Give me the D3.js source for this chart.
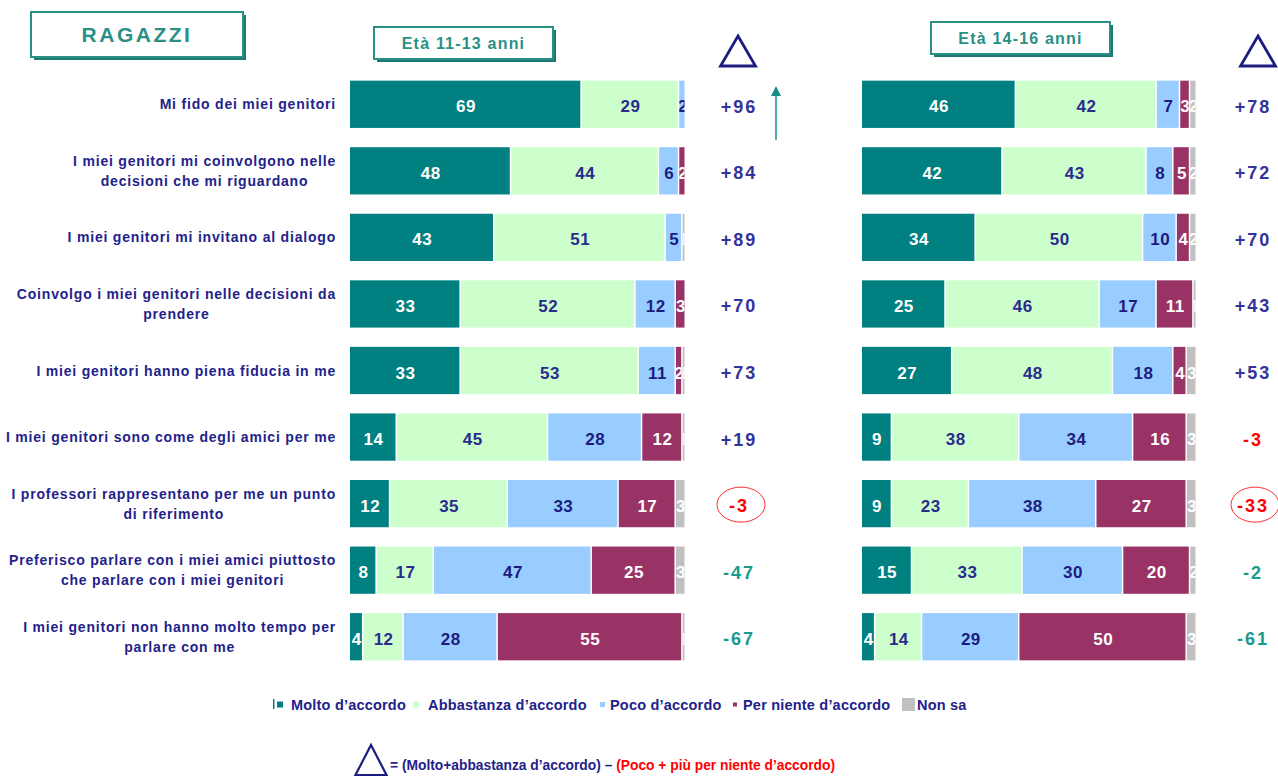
<!DOCTYPE html>
<html>
<head>
<meta charset="utf-8">
<script src="https://cdn.jsdelivr.net/npm/d3@7/dist/d3.min.js"></script>
<style>
body{margin:0;background:#fff;}
text{font-family:"Liberation Sans",Arial,sans-serif;font-weight:bold;}
</style>
</head>
<body>
<svg class="chart" width="1278" height="777"></svg>
<script>
var categories = [
  ["Mi fido dei miei genitori"],
  ["I miei genitori mi coinvolgono  nelle", "decisioni che mi riguardano"],
  ["I miei genitori mi invitano al dialogo"],
  ["Coinvolgo i miei genitori nelle decisioni da", "prendere"],
  ["I miei genitori hanno piena fiducia in me"],
  ["I miei genitori sono come  degli amici per me"],
  ["I professori rappresentano per me un punto", "di riferimento"],
  ["Preferisco parlare con i miei amici piuttosto", "che parlare con i miei genitori"],
  ["I miei genitori non hanno molto tempo per", "parlare con me"]
];
var seriesNames = ["Molto d'accordo", "Abbastanza d'accordo", "Poco d'accordo", "Per niente d'accordo", "Non sa"];
var seriesColors = ["#008080", "#ccffcc", "#99ccff", "#993366", "#c0c0c0"];
var seriesText = ["#ffffff", "#2b2b8c", "#1c1c80", "#ffffff", "#ffffff"];

// Età 11-13
var molto1 =      [69, 48, 43, 33, 33, 14, 12,  8,  4];
var abbastanza1 = [29, 44, 51, 52, 53, 45, 35, 17, 12];
var poco1 =       [ 2,  6,  5, 12, 11, 28, 33, 47, 28];
var perniente1 =  [ 0,  2,  0,  3,  2, 12, 17, 25, 55];
var nonsa1 =      [ 0,  0,  1,  0,  1,  1,  3,  3,  1];
var delta1 =      ["+96", "+84", "+89", "+70", "+73", "+19", "-3", "-47", "-67"];

// Età 14-16
var molto2 =      [46, 42, 34, 25, 27,  9,  9, 15,  4];
var abbastanza2 = [42, 43, 50, 46, 48, 38, 23, 33, 14];
var poco2 =       [ 7,  8, 10, 17, 18, 34, 38, 30, 29];
var perniente2 =  [ 3,  5,  4, 11,  4, 16, 27, 20, 50];
var nonsa2 =      [ 2,  2,  2,  1,  3,  3,  3,  2,  3];
var delta2 =      ["+78", "+72", "+70", "+43", "+53", "-3", "-33", "-2", "-61"];

// colore e cerchio dei delta
var deltaStyle1 = ["pos","pos","pos","pos","pos","pos","redc","neg","neg"];
var deltaStyle2 = ["pos","pos","pos","pos","pos","red","redc","neg","neg"];

var svg = d3.select("svg.chart");
var navy = "#22228a";
var teal = "#2a8f85";

var y = d3.scaleBand()
    .domain(d3.range(categories.length))
    .range([71, 670])
    .paddingInner(0.29)
    .paddingOuter(0.145);

var x1 = d3.scaleLinear().domain([0, 100]).range([350, 686]);
var x2 = d3.scaleLinear().domain([0, 100]).range([862, 1197]);

// etichette categorie
categories.forEach(function(lines, i){
    var g = svg.append("g");
    var cy = y(i) + y.bandwidth()/2;
    var t = g.selectAll("text").data(lines).enter().append("text")
        .attr("font-size", 14)
        .attr("letter-spacing", 0.8)
        .attr("fill", navy)
        .attr("text-anchor", "middle")
        .attr("y", function(d, k){ return cy + 5 + (k - (lines.length-1)/2)*20; })
        .text(function(d){ return d; });
    var w = d3.max(t.nodes(), function(n){ return n.getComputedTextLength(); });
    t.attr("x", 336 - w/2);
});

var clipId = 0;
function panel(x, cols, deltas, styles, dx){
    var rows = categories.map(function(c, i){
        var acc = 0;
        return cols.map(function(col, s){
            var v = col[i];
            var seg = {s: s, v: v, x0: acc, x1: acc + v, i: i};
            acc += v;
            return seg;
        });
    });
    var segs = [].concat.apply([], rows).filter(function(d){ return d.v > 0; });

    var g = svg.append("g");
    var seg = g.selectAll("g.seg").data(segs).enter().append("g");
    seg.append("clipPath")
        .attr("id", function(d){ d.cid = "c" + (clipId++); return d.cid; })
        .append("rect")
        .attr("x", function(d){ return x(d.x0); })
        .attr("y", function(d){ return y(d.i); })
        .attr("width", function(d){ return Math.max(0, x(d.x1) - x(d.x0) - 1.5); })
        .attr("height", y.bandwidth());
    seg.append("rect")
        .attr("x", function(d){ return x(d.x0); })
        .attr("y", function(d){ return y(d.i); })
        .attr("width", function(d){ return Math.max(0, x(d.x1) - x(d.x0) - 1.5); })
        .attr("height", y.bandwidth())
        .attr("fill", function(d){ return seriesColors[d.s]; });
    seg.append("text")
        .attr("clip-path", function(d){ return "url(#" + d.cid + ")"; })
        .attr("x", function(d){ return (x(d.x0) + x(d.x1))/2; })
        .attr("y", function(d){ return y(d.i) + y.bandwidth()/2 + 8; })
        .attr("text-anchor", "middle")
        .attr("font-size", 17)
        .attr("letter-spacing", 0.5)
        .attr("fill", function(d){ return seriesText[d.s]; })
        .text(function(d){ return d.v; });

    // delta
    var dg = svg.append("g");
    dg.selectAll("ellipse").data(deltas.map(function(d, i){ return {i: i, st: styles[i]}; })
            .filter(function(d){ return d.st === "redc"; }))
        .enter().append("ellipse")
        .attr("cx", dx + 2)
        .attr("cy", function(d){ return y(d.i) + y.bandwidth()/2 + 1; })
        .attr("rx", 24).attr("ry", 17.5)
        .attr("fill", "none")
        .attr("stroke", "#ff3030")
        .attr("stroke-width", 1);
    dg.selectAll("text").data(deltas).enter().append("text")
        .attr("x", dx)
        .attr("y", function(d, i){ return y(i) + y.bandwidth()/2 + 8.5; })
        .attr("text-anchor", "middle")
        .attr("font-size", 18)
        .attr("letter-spacing", 2)
        .attr("fill", function(d, i){
            var st = styles[i];
            return st === "pos" ? "#333399" : (st === "neg" ? "#1a9a8c" : "#ff0000");
        })
        .text(function(d){ return d; });
}

panel(x1, [molto1, abbastanza1, poco1, perniente1, nonsa1], delta1, deltaStyle1, 739);
panel(x2, [molto2, abbastanza2, poco2, perniente2, nonsa2], delta2, deltaStyle2, 1253);

// riquadri titolo
function box(bx, by, bw, bh, label, fs, ls){
    svg.append("rect").attr("x", bx + 3).attr("y", by + 3).attr("width", bw).attr("height", bh)
        .attr("fill", "#1d7a70");
    svg.append("rect").attr("x", bx).attr("y", by).attr("width", bw).attr("height", bh)
        .attr("fill", "#fff").attr("stroke", teal).attr("stroke-width", 2);
    svg.append("text").attr("x", bx + bw/2).attr("y", by + bh/2 + fs*0.35)
        .attr("text-anchor", "middle").attr("font-size", fs).attr("fill", teal)
        .attr("letter-spacing", ls)
        .text(label);
}
box(31, 12, 212, 45, "RAGAZZI", 21, 2.5);
box(374, 27, 179, 32, "Età 11-13 anni", 16, 1.2);
box(931, 22, 179, 32, "Età 14-16 anni", 16, 1.2);

// triangoli
function tri(ax, ay, w, h, sw){
    svg.append("path")
        .attr("d", d3.line()([[ax, ay], [ax + w/2, ay + h], [ax - w/2, ay + h]]) + "Z")
        .attr("fill", "none").attr("stroke", "#1c1c80").attr("stroke-width", sw)
        .attr("stroke-linejoin", "miter");
}
tri(738, 36, 35, 30, 2.8);
tri(1258, 36, 35, 30, 2.8);
tri(371, 745, 31, 30, 2.2);

// freccia
svg.append("line").attr("x1", 776).attr("y1", 140).attr("x2", 776).attr("y2", 92)
    .attr("stroke", "#138f87").attr("stroke-width", 1.5);
svg.append("path").attr("d", "M771,96 L776,86 L781,96 Z").attr("fill", "#138f87");

// legenda
var legSq = [277, 413, 600, 733, 902];
var legSz = [6, 6, 5, 4, 13];
var legTx = [291, 428, 610, 743, 917];
svg.append("rect").attr("x", 273).attr("y", 699).attr("width", 1.5).attr("height", 10).attr("fill", "#008080");
var leg = svg.append("g").selectAll("g").data(seriesNames).enter().append("g");
leg.append("rect")
    .attr("x", function(d, i){ return legSq[i]; })
    .attr("y", function(d, i){ return 704.5 - legSz[i]/2; })
    .attr("width", function(d, i){ return legSz[i]; })
    .attr("height", function(d, i){ return legSz[i]; })
    .attr("fill", function(d, i){ return seriesColors[i]; });
leg.append("text")
    .attr("x", function(d, i){ return legTx[i]; })
    .attr("y", 709.5)
    .attr("font-size", 14.5)
    .attr("letter-spacing", 0.2)
    .attr("fill", navy)
    .text(function(d){ return d.replace("'", "’"); });

// formula
var f = svg.append("text").attr("x", 390).attr("y", 769.5)
    .attr("font-size", 13.8).attr("fill", navy);
f.append("tspan").text("= (Molto+abbastanza d’accordo) – ");
f.append("tspan").attr("fill", "#ff0000").text("(Poco + più per niente d’accordo)");
</script>
</body>
</html>
